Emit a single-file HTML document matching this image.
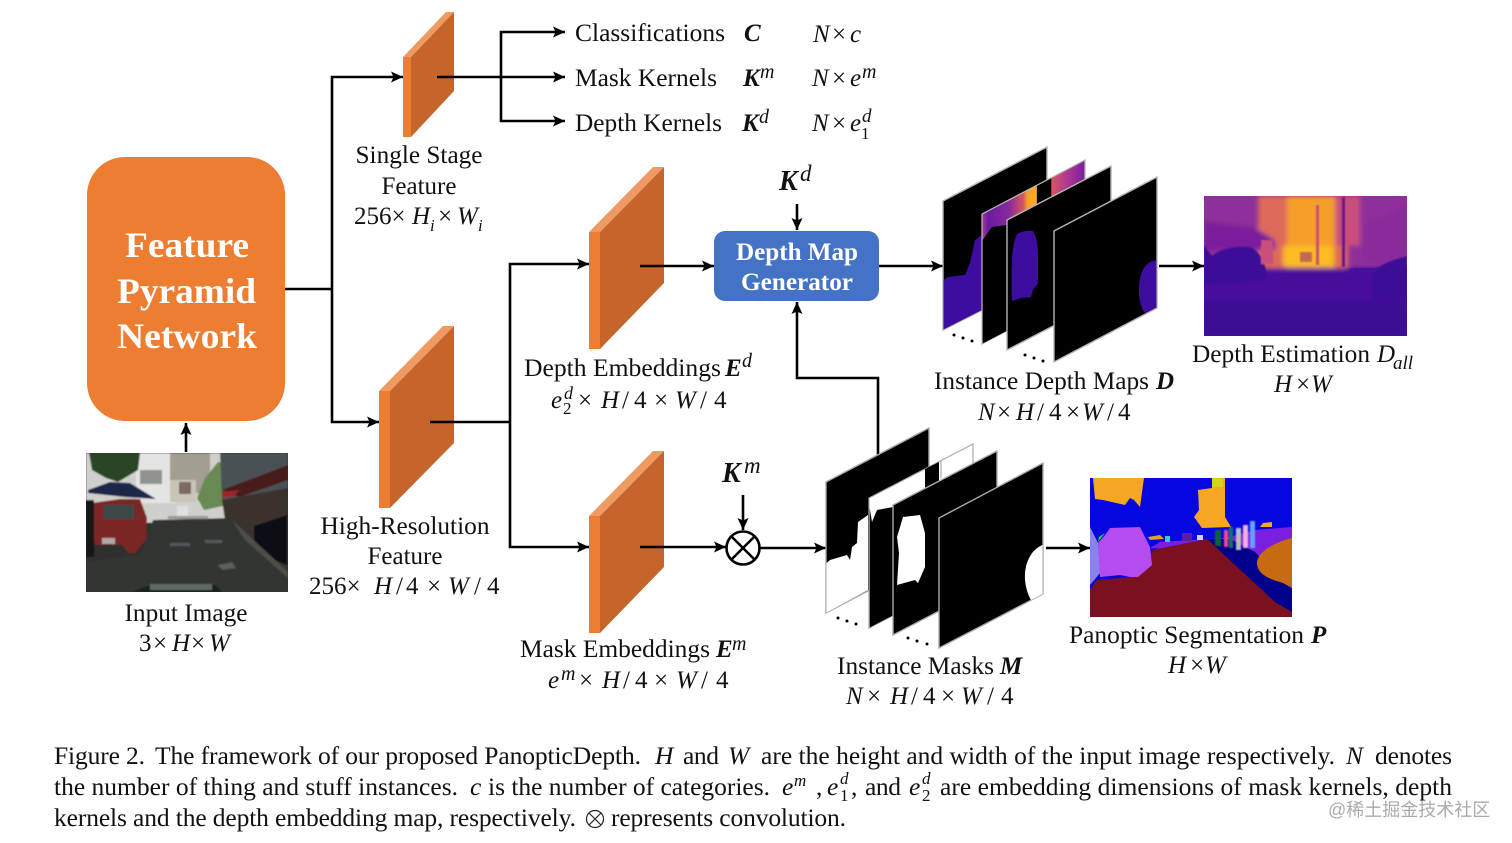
<!DOCTYPE html>
<html><head><meta charset="utf-8">
<style>
html,body{margin:0;padding:0;background:#fff}
svg{display:block}
text{font-family:"Liberation Serif","Noto Serif CJK SC",serif;font-size:25px;fill:#111}
.i{font-style:italic}
.b{font-style:italic;font-weight:bold}
.c{font-size:25.5px}
.s{font-size:17px}
.w{font-family:"Liberation Sans","Noto Sans CJK SC",sans-serif;font-size:18px;fill:#aaa}
.h{font-weight:bold;fill:#fff;font-size:36px}
.g{font-weight:bold;fill:#fff;font-size:25px}
.m{text-anchor:middle}
.l{stroke:#000;stroke-width:2.6;fill:none}
</style></head><body>
<svg width="1512" height="843" viewBox="0 0 1512 843" xmlns="http://www.w3.org/2000/svg">
<defs>
<marker id="a" markerUnits="userSpaceOnUse" markerWidth="13" markerHeight="12" refX="12" refY="5.500" orient="auto"><path d="M0 0L12 5.500L0 11L2.500 5.500Z" fill="#000"/></marker>
<filter id="bl"><feGaussianBlur stdDeviation="0.8"/></filter>
<filter id="bl2"><feGaussianBlur stdDeviation="2.500"/></filter>
<filter id="bl4"><feGaussianBlur stdDeviation="4"/></filter>
<linearGradient id="dg" x1="0" y1="0" x2="0" y2="1"><stop offset="0" stop-color="#5a12a0"/><stop offset="1" stop-color="#3c0a94"/></linearGradient>
<linearGradient id="band" gradientUnits="userSpaceOnUse" x1="982" y1="0" x2="1085" y2="0">
<stop offset="0" stop-color="#b03a90"/><stop offset=".06" stop-color="#6a1aa0"/><stop offset=".27" stop-color="#8b2a9b"/><stop offset=".4" stop-color="#d8555f"/><stop offset=".44" stop-color="#f59f2a"/><stop offset=".53" stop-color="#fbb024"/><stop offset=".535" stop-color="#000"/><stop offset=".67" stop-color="#000"/><stop offset=".675" stop-color="#d8555f"/><stop offset=".82" stop-color="#b03a90"/><stop offset="1" stop-color="#7a1f9d"/></linearGradient>
<clipPath id="dc"><rect x="1204" y="196" width="203" height="140"/></clipPath>
<clipPath id="pc"><rect x="1090" y="478" width="202" height="139"/></clipPath>
<clipPath id="ic"><rect x="86" y="453" width="202" height="139"/></clipPath>
</defs>

<!-- FPN -->
<rect x="87" y="157" width="198" height="264" rx="38" fill="#ed7d31"/>
<text class="h" x="125" y="257" textLength="124" lengthAdjust="spacingAndGlyphs">Feature</text>
<text class="h" x="117" y="303" textLength="139" lengthAdjust="spacingAndGlyphs">Pyramid</text>
<text class="h" x="117" y="348" textLength="140" lengthAdjust="spacingAndGlyphs">Network</text>

<!-- input image -->
<g clip-path="url(#ic)">
<rect x="86" y="453" width="202" height="139" fill="#2f302e"/>
<g filter="url(#bl)">
<rect x="86" y="453" width="202" height="70" fill="#cfd0cc"/>
<rect x="136" y="453" width="40" height="50" fill="#e4e4e2"/>
<rect x="140" y="470" width="22" height="14" fill="#8f938f"/>
<rect x="170" y="453" width="40" height="40" fill="#a29e92"/>
<rect x="170" y="480" width="26" height="22" fill="#c9c4b8"/>
<rect x="179" y="482" width="12" height="12" fill="#7a6a60"/>
<path d="M89 453H140L138 470L118 482L106 478L92 470Z" fill="#2b4527"/>
<path d="M205 478L218 462L230 465L228 505L204 510L197 498Z" fill="#6a8a55"/>
<path d="M220 453H288V492L240 500L222 500Z" fill="#4a5155"/>
<path d="M222 490L288 465V480L240 497Z" fill="#4a1c1a"/>
<path d="M222 492L240 490L232 497L222 497Z" fill="#a02028"/>
<path d="M222 500L288 488V575L262 562L235 525L225 520Z" fill="#3a332e"/>
<path d="M88 490L110 482L130 483L156 499L125 497L88 493Z" fill="#1d2548"/>
<path d="M92 503L120 499H140L147 518L146 540L135 553H128L122 545H95L92 525Z" fill="#7c2528"/>
<path d="M104 505H134V519H104Z" fill="#3a4a48"/>
<rect x="86" y="500" width="8" height="57" fill="#171717"/>
<rect x="177" y="506" width="11" height="10" fill="#e0e0e0"/>
<rect x="102" y="538" width="13" height="6" fill="#b0a8a0"/>
<path d="M153 520L232 518L288 570V592H86V562L140 555Z" fill="#323433"/>
<path d="M254 526L287 515V565L268 558L254 540Z" fill="#101012"/>
<path d="M232 520L288 572V578L245 540Z" fill="#504e46"/>
<rect x="168" y="516" width="40" height="3" fill="#9a9a90"/>
<path d="M132 592L150 585H215L222 592Z" fill="#15201d"/>
<rect x="150" y="584" width="62" height="6" fill="#5e6a62"/>
<path d="M218 565L232 562L236 568L222 570Z" fill="#5a5e5a"/>
<path d="M170 543H190V546H170ZM205 540H222V543H205Z" fill="#54585a"/>
</g>
</g>

<!-- orange blocks -->
<g>
<polygon points="403,57 446,12 454,12 411,57" fill="#f09a63"/>
<rect x="403" y="57" width="8" height="80" fill="#ed7d31"/>
<polygon points="411,57 454,12 454,91 411,137" fill="#c5652b"/>

<polygon points="379,391 443,326 454,326 390,391" fill="#f09a63"/>
<rect x="379" y="391" width="11" height="117" fill="#ed7d31"/>
<polygon points="390,391 454,326 454,443 390,508" fill="#c5652b"/>

<polygon points="589,232 653,167 664,167 600,232" fill="#f09a63"/>
<rect x="589" y="232" width="11" height="117" fill="#ed7d31"/>
<polygon points="600,232 664,167 664,283 600,349" fill="#c5652b"/>

<polygon points="589,516 653,451 664,451 600,516" fill="#f09a63"/>
<rect x="589" y="516" width="11" height="117" fill="#ed7d31"/>
<polygon points="600,516 664,451 664,567 600,633" fill="#c5652b"/>
</g>

<!-- connectors -->
<path class="l" d="M285 289H332"/>
<path class="l" d="M332 289V77H403" marker-end="url(#a)"/>
<path class="l" d="M332 289V422H379" marker-end="url(#a)"/>
<path class="l" d="M437 77H565" marker-end="url(#a)"/>
<path class="l" d="M501 77V32H565" marker-end="url(#a)"/>
<path class="l" d="M501 77V121H565" marker-end="url(#a)"/>
<path class="l" d="M430 422H510"/>
<path class="l" d="M510 422V264H589" marker-end="url(#a)"/>
<path class="l" d="M510 422V547H589" marker-end="url(#a)"/>
<path class="l" d="M640 266H714" marker-end="url(#a)"/>
<path class="l" d="M640 547H726" marker-end="url(#a)"/>
<path class="l" d="M760 548H826" marker-end="url(#a)"/>
<path class="l" d="M743 495V530" marker-end="url(#a)"/>
<path class="l" d="M797 204V230" marker-end="url(#a)"/>
<path class="l" d="M879 266H943" marker-end="url(#a)"/>
<path class="l" d="M1159 266H1204" marker-end="url(#a)"/>
<path class="l" d="M1046 548H1090" marker-end="url(#a)"/>
<path class="l" d="M878 456V378H797V302" marker-end="url(#a)"/>
<path class="l" d="M186 452V423" marker-end="url(#a)"/>
<circle cx="743" cy="548" r="16.500" fill="#fff" stroke="#000" stroke-width="2.600"/>
<path class="l" d="M731.500 536.500L754.500 559.500M754.500 536.500L731.500 559.500"/>

<!-- generator -->
<rect x="714" y="231" width="165" height="70" rx="11" fill="#4472c4"/>
<text class="g" x="736" y="260" textLength="122" lengthAdjust="spacingAndGlyphs">Depth Map</text>
<text class="g" x="741" y="290" textLength="112" lengthAdjust="spacingAndGlyphs">Generator</text>

<!-- depth planes -->
<polygon points="943,201 1047,147 1047,277 943,330" fill="#000" stroke="#b5b5b5" stroke-width="1.400"/>
<path d="M943.500 280L948 277L965 275L970 263L975 240L982 235V310L943.500 329.500Z" fill="#3f0ca0"/>
<polygon points="982,214 1085,160 1085,290 982,344" fill="url(#band)" stroke="#bbb" stroke-width="1.200"/>
<polygon points="982.700,240 992,227 1007,225 1085,190 1085,290 982.700,343.500" fill="#000"/>
<polygon points="1007,220 1111,166 1111,296 1007,350" fill="#000" stroke="#b5b5b5" stroke-width="1.400"/>
<path d="M1017 234Q1025 230 1033 231Q1038 240 1038 255L1038 283L1033 290L1031 297L1021 298L1012 301Q1011 280 1012 263Q1012 245 1017 234Z" fill="#3f0ca0"/>
<polygon points="1054,231 1157,177 1157,308 1054,362" fill="#000" stroke="#b5b5b5" stroke-width="1.400"/>
<path d="M1156.300 260C1145 262 1138 272 1139 295C1140 305 1143 311 1145 313L1156.300 307.500Z" fill="#3f0ca0"/>
<g fill="#000"><circle cx="954" cy="335" r="1.500"/><circle cx="963" cy="338" r="1.500"/><circle cx="972" cy="341" r="1.500"/><circle cx="1025" cy="355" r="1.500"/><circle cx="1034" cy="358" r="1.500"/><circle cx="1043" cy="361" r="1.500"/></g>

<!-- depth image -->
<g clip-path="url(#dc)">
<rect x="1204" y="196" width="203" height="140" fill="url(#dg)"/>
<rect x="1204" y="196" width="203" height="72" fill="#8f2f9b"/>
<g filter="url(#bl2)">
<rect x="1258" y="196" width="90" height="72" fill="#de6a5a"/>
<rect x="1287" y="196" width="48" height="72" fill="#f59f2a"/>
<rect x="1283" y="246" width="50" height="20" fill="#fdbb24"/>
<rect x="1335" y="196" width="25" height="50" fill="#c9507a"/>
<path d="M1204 222L1255 228L1275 240V250H1204Z" fill="#7a1f9b"/>
<path d="M1363 225L1407 205V262H1363Z" fill="#8a2a9b"/>
<rect x="1204" y="268" width="203" height="68" fill="#4a0c9c"/>
<rect x="1204" y="300" width="203" height="36" fill="#3c0a94"/>
</g>
<g filter="url(#bl)">
<path d="M1204 245L1212 256Q1225 245 1250 247Q1266 255 1267 280L1204 285Z" fill="#3e0a98"/>
<path d="M1372 275C1380 262 1395 260 1407 256V300H1372Z" fill="#3e0a98"/>
<rect x="1342" y="197" width="3" height="70" fill="#6a1690"/>
<rect x="1316" y="205" width="3" height="60" fill="#c9507a"/>
<rect x="1261" y="240" width="12" height="24" fill="#c9507a"/>
<rect x="1300" y="252" width="12" height="10" fill="#c26a50"/>
</g>
</g>

<!-- mask planes -->
<polygon points="826,482 929,428 929,559 826,613" fill="#000" stroke="#aaa" stroke-width="1.400"/>
<path d="M826.500 563L830 560L847 555L850 560L852 547L857 543L858 522L868 515V590L826.500 612.500Z" fill="#fff"/>
<polygon points="869,498 973,444 973,574 869,628" fill="#fff" stroke="#aaa" stroke-width="1.200"/>
<polygon points="925,469 939,462 939,490 925,496" fill="#000"/>
<polygon points="869.700,508 872,522 877,510 893,507 997,470 972.500,574 869.700,627.500" fill="#000"/>
<line x1="941" y1="461" x2="941" y2="478" stroke="#aaa" stroke-width="1.200"/>
<polygon points="893,505 997,451 997,581 893,635" fill="#000" stroke="#aaa" stroke-width="1.400"/>
<path d="M903 517L920 515L925 533L925 567L918 583L915 580L897 585L899 553L897 537Z" fill="#fff"/>
<polygon points="939,518 1043,463 1043,594 939,648" fill="#000" stroke="#aaa" stroke-width="1.400"/>
<path d="M1042.500 545C1030 550 1024 565 1025 580C1026 590 1029 597 1031 600L1042.500 594Z" fill="#fff"/>
<g fill="#000"><circle cx="838" cy="618" r="1.500"/><circle cx="847" cy="621" r="1.500"/><circle cx="856" cy="624" r="1.500"/><circle cx="908" cy="638" r="1.500"/><circle cx="917" cy="641" r="1.500"/><circle cx="927" cy="644" r="1.500"/></g>

<!-- panoptic -->
<g clip-path="url(#pc)">
<rect x="1090" y="478" width="202" height="139" fill="#0606e0"/>
<path d="M1093 478H1144L1140 507L1134 500L1130 498L1125 505L1103 500L1095 499Z" fill="#f5a623"/>
<path d="M1198 490L1212 488V478H1225V517L1231 527L1202 528L1194 517L1199 510Z" fill="#f5a623"/>
<rect x="1212" y="478" width="11" height="9" fill="#d4d416"/>
<path d="M1255 530L1292 527V560L1260 556L1150 548L1160 542L1225 538Z" fill="#7a1fe0"/>
<path d="M1153 550L1207 539H1230L1255 552L1292 590V612H1285Z" fill="#00008b"/>
<path d="M1090 590L1097 580L1130 577L1145 565L1153 550L1207 539L1275 602L1292 612V617H1090Z" fill="#7a1020"/>
<path d="M1090 527L1098 543L1100 573L1090 585Z" fill="#8a80f0"/>
<path d="M1098 543L1105 535L1110 528L1140 527L1150 547L1152 565L1138 577L1130 577L1120 575L1100 577Z" fill="#b44cf0"/>
<path d="M1098 542L1105 533L1099 537Z" fill="#30d050"/>
<path d="M1292 538C1275 542 1257 552 1257 563C1257 575 1272 580 1283 583L1292 588Z" fill="#c86a10"/>
<g filter="url(#bl)">
<rect x="1224" y="530" width="4" height="17" fill="#ec4899"/>
<rect x="1229" y="527" width="4" height="21" fill="#0f766e"/>
<rect x="1236" y="528" width="5" height="22" fill="#bdbdbd"/>
<rect x="1243" y="525" width="5" height="23" fill="#f0b0e0"/>
<rect x="1250" y="521" width="5" height="27" fill="#60a5fa"/>
<rect x="1215" y="530" width="6" height="16" fill="#0b5e3e"/>
</g>
<path d="M1260 527L1263 523L1272 522V527Z" fill="#f5a623"/>
<path d="M1148 537L1160 535L1164 539L1150 540Z" fill="#e0a030"/>
<rect x="1182" y="533" width="10" height="8" fill="#5a1f9a"/>
<rect x="1165" y="536" width="5" height="6" fill="#30d0d0"/>
<rect x="1197" y="535" width="6" height="5" fill="#d0d0f0"/>
</g>

<!-- top outputs -->
<text x="575" y="41" textLength="150" lengthAdjust="spacingAndGlyphs">Classifications</text>
<text x="575" y="86" textLength="142" lengthAdjust="spacingAndGlyphs">Mask Kernels</text>
<text x="575" y="131" textLength="147" lengthAdjust="spacingAndGlyphs">Depth Kernels</text>
<text class="b" x="744" y="41">C</text>
<text class="b" x="743" y="86">K</text><text class="i" x="760" y="78" style="font-size:20px">m</text>
<text class="b" x="742" y="131">K</text><text class="i" x="759" y="123" style="font-size:20px">d</text>
<text y="42"><tspan class="i" x="813">N</tspan><tspan x="832">×</tspan><tspan class="i" x="850">c</tspan></text>
<text y="86"><tspan class="i" x="812">N</tspan><tspan x="832">×</tspan><tspan class="i" x="850">e</tspan></text><text class="i" x="862" y="78" style="font-size:20px">m</text>
<text y="131"><tspan class="i" x="812">N</tspan><tspan x="832">×</tspan><tspan class="i" x="850">e</tspan></text><text class="i" x="862" y="122" style="font-size:19px">d</text><text class="s" x="861" y="139">1</text>

<!-- labels -->
<text class="m" x="419" y="163" textLength="127" lengthAdjust="spacingAndGlyphs">Single Stage</text>
<text class="m" x="419" y="194">Feature</text>
<text y="224"><tspan x="354">256×</tspan><tspan class="i" x="412">H</tspan><tspan x="438">×</tspan><tspan class="i" x="457">W</tspan></text><text class="i s" x="430" y="231">i</text><text class="i s" x="478" y="231">i</text>

<text class="m" x="405" y="534" textLength="169" lengthAdjust="spacingAndGlyphs">High-Resolution</text>
<text class="m" x="405" y="564">Feature</text>
<text y="594"><tspan x="309">256×</tspan><tspan class="i" x="374">H</tspan><tspan x="396">/</tspan><tspan x="406">4</tspan><tspan x="427">×</tspan><tspan class="i" x="448">W</tspan><tspan x="474">/</tspan><tspan x="487">4</tspan></text>

<text x="524" y="376" textLength="197" lengthAdjust="spacingAndGlyphs">Depth Embeddings</text>
<text class="b" x="725" y="376">E</text><text class="i" x="742" y="367" style="font-size:20px">d</text>
<text class="i" x="551" y="408">e</text><text class="i s" x="564" y="399" style="font-size:18px">d</text><text class="s" x="563" y="414">2</text>
<text y="408"><tspan x="578">×</tspan><tspan class="i" x="601">H</tspan><tspan x="622">/</tspan><tspan x="634">4</tspan><tspan x="654">×</tspan><tspan class="i" x="675">W</tspan><tspan x="700">/</tspan><tspan x="714">4</tspan></text>

<text x="520" y="657" textLength="190" lengthAdjust="spacingAndGlyphs">Mask Embeddings</text>
<text class="b" x="716" y="657">E</text><text class="i" x="732" y="650" style="font-size:20px">m</text>
<text class="i" x="548" y="688">e</text><text class="i" x="561" y="680" style="font-size:20px">m</text>
<text y="688"><tspan x="579">×</tspan><tspan class="i" x="602">H</tspan><tspan x="623">/</tspan><tspan x="635">4</tspan><tspan x="654">×</tspan><tspan class="i" x="676">W</tspan><tspan x="701">/</tspan><tspan x="716">4</tspan></text>

<text class="m" x="186" y="621" textLength="123" lengthAdjust="spacingAndGlyphs">Input Image</text>
<text y="651"><tspan x="139">3</tspan><tspan x="153">×</tspan><tspan class="i" x="172">H</tspan><tspan x="191">×</tspan><tspan class="i" x="209">W</tspan></text>

<text class="b" x="779" y="190" style="font-size:28px">K</text><text class="i" x="800" y="181" style="font-size:23px">d</text>
<text class="b" x="722" y="482" style="font-size:28px">K</text><text class="i" x="744" y="473" style="font-size:23px">m</text>

<text x="934" y="389" textLength="215" lengthAdjust="spacingAndGlyphs">Instance Depth Maps</text>
<text class="b" x="1156" y="389">D</text>
<text y="420"><tspan class="i" x="978">N</tspan><tspan x="997">×</tspan><tspan class="i" x="1016">H</tspan><tspan x="1037">/</tspan><tspan x="1049">4</tspan><tspan x="1066">×</tspan><tspan class="i" x="1082">W</tspan><tspan x="1107">/</tspan><tspan x="1118">4</tspan></text>

<text x="1192" y="362" textLength="178" lengthAdjust="spacingAndGlyphs">Depth Estimation</text>
<text class="i" x="1377" y="362">D</text><text class="i" x="1393" y="369" style="font-size:19px">all</text>
<text y="392"><tspan class="i" x="1274">H</tspan><tspan x="1296">×</tspan><tspan class="i" x="1311">W</tspan></text>

<text x="837" y="674" textLength="157" lengthAdjust="spacingAndGlyphs">Instance Masks</text>
<text class="b" x="1000" y="674">M</text>
<text y="704"><tspan class="i" x="846">N</tspan><tspan x="867">×</tspan><tspan class="i" x="890">H</tspan><tspan x="911">/</tspan><tspan x="923">4</tspan><tspan x="941">×</tspan><tspan class="i" x="961">W</tspan><tspan x="987">/</tspan><tspan x="1001">4</tspan></text>

<text x="1069" y="643" textLength="235" lengthAdjust="spacingAndGlyphs">Panoptic Segmentation</text>
<text class="b" x="1311" y="643">P</text>
<text y="673"><tspan class="i" x="1168">H</tspan><tspan x="1190">×</tspan><tspan class="i" x="1205">W</tspan></text>

<!-- caption -->
<g class="cap">
<text class="c" x="54" y="764" textLength="91">Figure 2.</text>
<text class="c" x="155" y="764" textLength="486">The framework of our proposed PanopticDepth.</text>
<text class="c i" x="655" y="764">H</text>
<text class="c" x="683" y="764" textLength="36">and</text>
<text class="c i" x="728" y="764">W</text>
<text class="c" x="761" y="764" textLength="574">are the height and width of the input image respectively.</text>
<text class="c i" x="1346" y="764">N</text>
<text class="c" x="1375" y="764" textLength="77">denotes</text>

<text class="c" x="54" y="795" textLength="404">the number of thing and stuff instances.</text>
<text class="c i" x="470" y="795">c</text>
<text class="c" x="488" y="795" textLength="282">is the number of categories.</text>
<text class="c i" x="782" y="795">e</text><text class="i s" x="794" y="786">m</text>
<text class="c" x="816" y="795">,</text>
<text class="c i" x="827" y="795">e</text><text class="i s" x="840" y="784">d</text><text class="s" x="840" y="801">1</text>
<text class="c" x="851" y="795">,</text>
<text class="c" x="865" y="795" textLength="36">and</text>
<text class="c i" x="909" y="795">e</text><text class="i s" x="922" y="784">d</text><text class="s" x="922" y="801">2</text>
<text class="c" x="940" y="795" textLength="512">are embedding dimensions of mask kernels, depth</text>

<text class="c" x="54" y="826" textLength="522">kernels and the depth embedding map, respectively.</text>
<circle cx="595" cy="819" r="8.500" fill="none" stroke="#222" stroke-width="1.200"/>
<path d="M589 813L601 825M601 813L589 825" stroke="#222" stroke-width="1.200"/>
<text class="c" x="611" y="826" textLength="235">represents convolution.</text>
</g>
<text class="w" x="1328" y="816">@稀土掘金技术社区</text>
</svg>
</body></html>
